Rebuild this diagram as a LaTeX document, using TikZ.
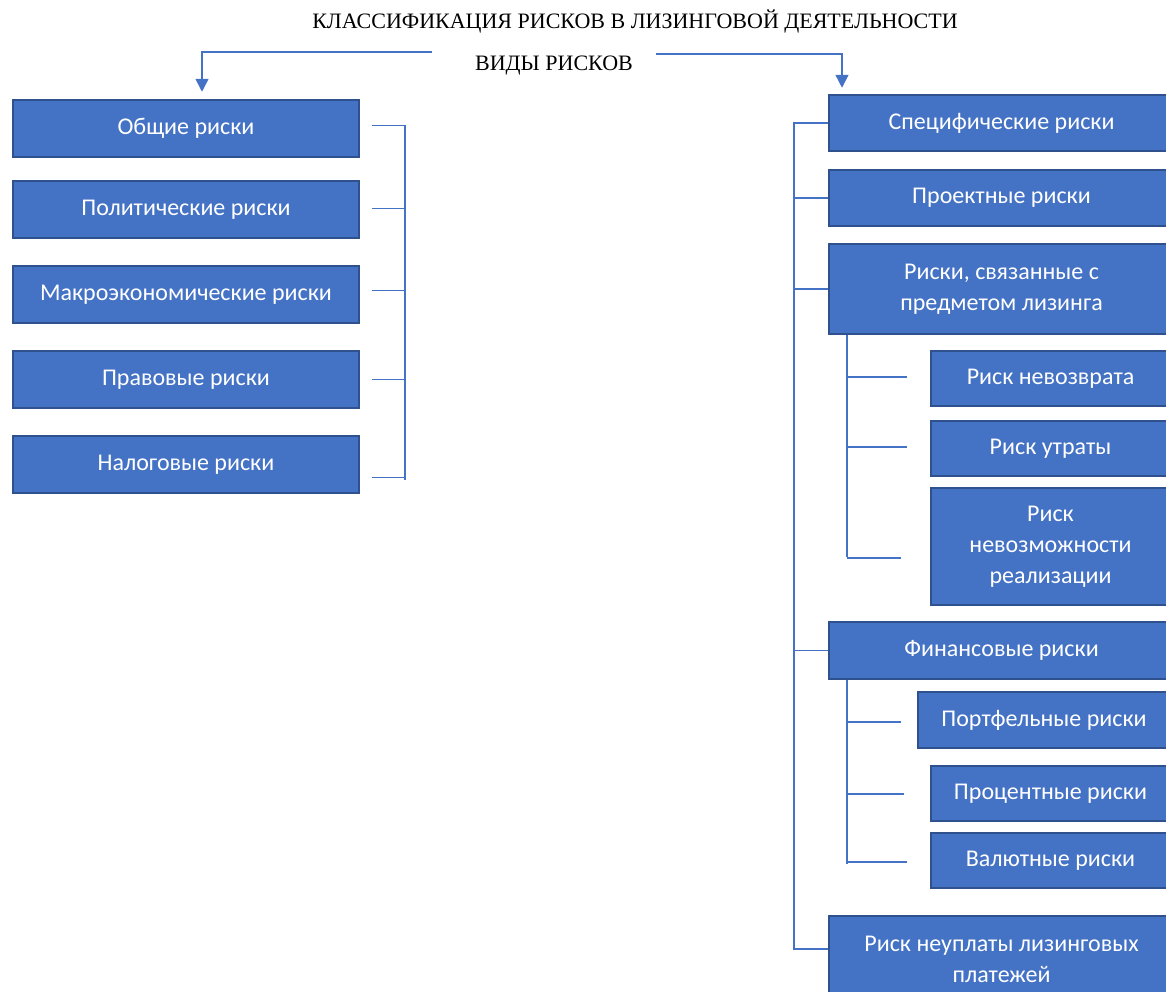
\documentclass[tikz,border=0pt]{standalone}
\usepackage{fontspec}
\setmainfont{Liberation Serif}
\newfontfamily\boxfont{Carlito}
\usetikzlibrary{arrows.meta}
\definecolor{boxfill}{HTML}{4472C4}
\definecolor{boxline}{HTML}{2F528F}
\tikzset{
	riskbox/.style = {draw = boxline, fill = boxfill, line width = 2.5pt, text = white, align = center,
		font = \boxfont\fontsize{24}{31}\selectfont, inner sep = 0pt},
	link/.style = {draw = boxfill, line width = 1.5pt},
	head/.style = {font = \fontsize{22}{26}\selectfont}
}
\begin{document}
\begin{tikzpicture}[x = 1pt, y = -1pt]
\path[use as bounding box, clip] (0,0) rectangle (1166,991);
\node[head] (klass) at (635,22) {КЛАССИФИКАЦИЯ РИСКОВ В ЛИЗИНГОВОЙ ДЕЯТЕЛЬНОСТИ};
\node[head] (vidy) at (554,66) {ВИДЫ РИСКОВ};
% left column
\begin{scope}[every node/.style = {riskbox, minimum width = 346pt, minimum height = 57pt}]
\node (obsh) at (186,128.5) {Общие риски};
\node (polit) at (186,209.5) {Политические риски};
\node (makro) at (186,294.5) {Макроэкономические риски};
\node (prav) at (186,379.5) {Правовые риски};
\node (nalog) at (186,464.5) {Налоговые риски};
\end{scope}
\coordinate (ltop) at (405,125);
\coordinate (lbot) at (405,480);
\draw[link] (ltop) -- (lbot);
\foreach \n/\dy in {obsh/-3, polit/-1, makro/-4, prav/0, nalog/13}
{
	\draw[link] ([shift = {(12,\dy)}]\n.east) -- ++(34,0);
}
% right column
\begin{scope}[every node/.style = {riskbox, minimum width = 345pt, minimum height = 56pt}]
\node (spec) at (1001.5,123) {Специфические риски};
\node (proekt) at (1001.5,198) {Проектные риски};
\node[minimum height = 90pt] (predmet) at (1001.5,289) {Риски, связанные с\\предметом лизинга};
\node[minimum height = 57pt] (fin) at (1001.5,650.5) {Финансовые риски};
\node[minimum height = 86pt] (neupl) at (1001.5,959) {Риск неуплаты лизинговых\\платежей};
\end{scope}
\begin{scope}[every node/.style = {riskbox, minimum width = 239pt, minimum height = 55pt}]
\node (nevozvr) at (1050.5,378.5) {Риск невозврата};
\node (utrata) at (1050.5,448.5) {Риск утраты};
\node[minimum height = 117pt] (nevozm) at (1050.5,546.5) {Риск\\невозможности\\реализации};
\node[minimum width = 252pt, minimum height = 56pt] (portf) at (1044,720) {Портфельные риски};
\node (proc) at (1050.5,793.5) {Процентные риски};
\node (val) at (1050.5,860.5) {Валютные риски};
\end{scope}
\coordinate (rtop) at (794,123);
\coordinate (rbot) at (794,948);
\draw[link] (rtop) -- (rbot);
\foreach \n/\dy in {spec/0, proekt/0, predmet/0, fin/0, neupl/-10}
{
	\draw[link] ([yshift = -\dy pt]\n.west) -- ++(-35,0);
}
\draw[link] ([xshift = 19pt]predmet.south west) -- ++(0,222);
\foreach \n/\dx/\dy/\l in {nevozvr/-23/-1.5/60, utrata/-23/-1.5/60, nevozm/-29/11.5/54}
{
	\draw[link] ([shift = {(\dx,\dy)}]\n.west) -- ++(-\l,0);
}
\draw[link] ([xshift = 19pt]fin.south west) -- ++(0,184);
\foreach \n/\dx/\dy/\l in {portf/-16/2/54, proc/-26/0.5/57, val/-23/1.5/60}
{
	\draw[link] ([shift = {(\dx,\dy)}]\n.west) -- ++(-\l,0);
}
% arrows from the heading
\draw[link, -{Triangle[width = 13pt, length = 13pt]}, shorten >= 7pt]
	([shift = {(-40,-14)}]vidy.west) -| ([xshift = 16pt]obsh.north);
\draw[link, -{Triangle[width = 13pt, length = 13pt]}, shorten >= 6pt]
	([shift = {(20,-12)}]vidy.east) -| ([xshift = -159.5pt]spec.north);
\end{tikzpicture}
\end{document}
